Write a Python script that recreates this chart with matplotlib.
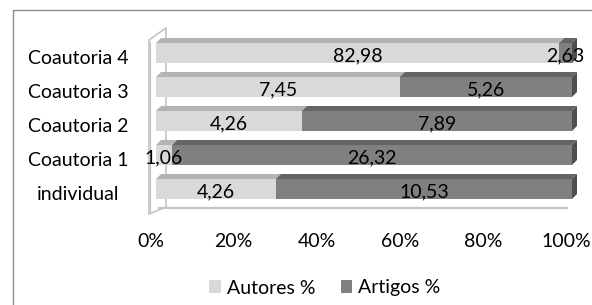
import numpy as np
import matplotlib
matplotlib.use("Agg")
import matplotlib.pyplot as plt
import matplotlib.patches as pat
import matplotlib.transforms as mtrans

categories = ["individual", "Coautoria 1", "Coautoria 2", "Coautoria 3", "Coautoria 4"]
autores = [4.26, 1.06, 4.26, 7.45, 82.98]
artigos = [10.53, 26.32, 7.89, 5.26, 2.63]
xticks = [0, 0.2, 0.4, 0.6, 0.8, 1.0]
xlabels = ["0%", "20%", "40%", "60%", "80%", "100%"]
series_names = ["Autores %", "Artigos %"]

plt.rcParams['font.family'] = ['Lato', 'DejaVu Sans']
FS = 14

W, H = 592, 305
fig = plt.figure(figsize=(W / 100, H / 100), dpi=100)

# axes placed in pixel terms: x 0->156px, 1->572px ; y index i at 189-34*i px
y0_px, y1_px = 215, 28
ax = fig.add_axes([156 / W, (H - y0_px) / H, 416 / W, (y0_px - y1_px) / H])
ax.set_xlim(0, 1)
ax.set_ylim((189 - y0_px) / 34, (189 - y1_px) / 34)
for s in ax.spines.values():
    s.set_visible(False)
ax.set_yticks([])

# border of the whole chart (only left/top visible in the crop)
fig.patches.append(pat.Rectangle((12.5 / W, -0.1), 1.2, 1.1 - 10 / H, transform=fig.transFigure,
                                 fill=False, edgecolor="#8c8c8c", lw=1.0))

px = 1 / 416.0
py = 1 / 34.0
dx, dy = 5 * px, 5 * py
wall = "#c4c4c4"
# back wall and floor
ax.plot([-7 * px, -7 * px, 10 * px, 10 * px],
        [(189 - 213) * py, (189 - 40) * py, (189 - 28) * py, (189 - 207) * py],
        color=wall, lw=1.2, clip_on=False)
ax.plot([-5.5 * px, -5.5 * px], [(189 - 213) * py, (189 - 42) * py], color=wall, lw=0.8, clip_on=False)
ax.plot([-7 * px, 10 * px], [(189 - 214) * py, (189 - 207) * py], color=wall, lw=1.2, clip_on=False)
ax.plot([3 * px, 411 * px], [(189 - 208) * py, (189 - 208) * py], color=wall, lw=1.6, clip_on=False)

colors = [("#d9d9d9", "#b4b4b4", "#a8a8a8"), ("#808080", "#656565", "#4f4f4f")]
bh = 20 / 34.0
ypos = np.arange(len(categories))
for i in ypos:
    tot = autores[i] + artigos[i]
    fr = [autores[i] / tot, artigos[i] / tot]
    vals = [autores[i], artigos[i]]
    left = 0
    for k in range(2):
        front, top, side = colors[k]
        w = fr[k]
        ax.barh(i, w, left=left, height=bh, color=front, edgecolor="none", zorder=3)
        yt = i + bh / 2
        ax.add_patch(pat.Polygon([(left, yt), (left + dx, yt + dy), (left + w + dx, yt + dy), (left + w, yt)],
                                 closed=True, facecolor=top, edgecolor="none", zorder=3, clip_on=False))
        left += w
    yb = i - bh / 2
    ax.add_patch(pat.Polygon([(1, yb), (1, i + bh / 2), (1 + dx, i + bh / 2 + dy), (1 + dx, yb + dy)],
                             closed=True, facecolor=colors[1][2], edgecolor="none", zorder=3, clip_on=False))
    left = 0
    for k in range(2):
        w = fr[k]
        ax.text(left + w / 2, i - 0.07, f"{vals[k]:.2f}".replace(".", ","), ha="center", va="center",
                fontsize=FS, color="#000000", zorder=5, clip_on=False)
        left += w

# category labels centred at x ~ 78px
bt = mtrans.blended_transform_factory(fig.transFigure, ax.transData)
for i, c in enumerate(categories):
    ax.text(78 / W, i - 0.17, c, transform=bt, ha="center", va="center", fontsize=FS, color="#000000")

ax.set_xticks(xticks)
ax.set_xticklabels(xlabels, fontsize=FS, color="#000000")
ax.tick_params(axis="x", length=0, pad=13)
off = mtrans.ScaledTranslation(-5.5 / 100, 0, fig.dpi_scale_trans)
for lab in ax.get_xticklabels():
    lab.set_transform(lab.get_transform() + off)

handles = [pat.Patch(facecolor=colors[0][0]), pat.Patch(facecolor=colors[1][0])]
fig.legend(handles, series_names, loc="center", bbox_to_anchor=(325 / W, 1 - 288 / H), ncol=2,
           frameon=False, fontsize=FS, handlelength=0.6, handleheight=0.6, handletextpad=0.3,
           columnspacing=1.3, borderaxespad=0)

fig.savefig("out.png", dpi=100)
